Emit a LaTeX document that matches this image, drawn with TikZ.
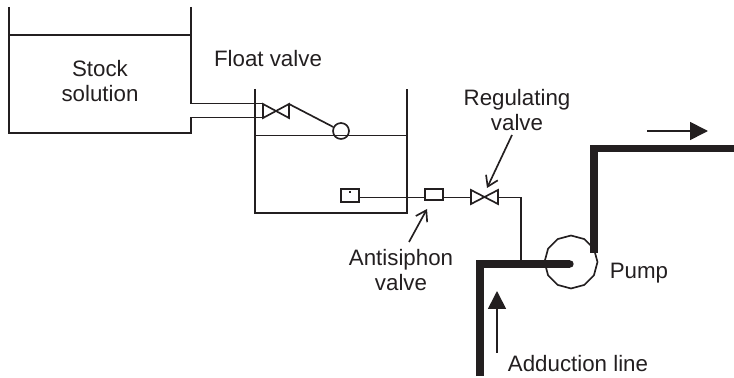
\documentclass[tikz,border=0pt]{standalone}
\usepackage{fontspec}
\setmainfont{Liberation Sans}
\usepackage{xcolor}
\usetikzlibrary{shapes.geometric,arrows.meta}
\definecolor{ink}{HTML}{231F20}
\tikzset{
  thin line/.style={draw=ink,line width=0.95pt},
  pipe/.style={draw=ink,line width=4.2pt,miter limit=10},
  lbl/.style={text=ink,inner sep=0pt,align=center,font=\fontsize{12.7}{14.7}\selectfont},
  box/.style={rectangle,thin line,inner sep=0pt,minimum width=0.36cm,minimum height=0.25cm},
  flow/.style={thin line,-{Triangle[width=0.36cm,length=0.36cm]}},
  point/.style={thin line,-{Straight Barb[width=0.26cm,length=0.2cm]}}
}

\begin{document}
\begin{tikzpicture}[x=0.02cm,y=-0.02cm]
        \useasboundingbox (0,0) rectangle (734,378);

        % stock tank
        \coordinate (st1) at (9,7);
        \coordinate (st2) at (9,133);
        \coordinate (st3) at (191,133);
        \coordinate (st4) at (191,117.5);
        \coordinate (st5) at (191,103.5);
        \coordinate (st6) at (191,7);
        \coordinate (lev1) at (9,35);
        \coordinate (lev2) at (191,35);
        \draw [thin line] (st1) -- (st2) -- (st3) -- (st4) -- (263,117.5);
        \draw [thin line] (st6) -- (st5) -- (263,103.5);
        \draw [thin line] (lev1) -- (lev2);
        \node[lbl] (stock) at (100,81) {Stock\\solution};

        % dosing tank
        \coordinate (dt1) at (255,89);
        \coordinate (dt2) at (255,213);
        \coordinate (dt3) at (407,213);
        \coordinate (dt4) at (407,89);
        \coordinate (lev3) at (255,135.5);
        \coordinate (lev4) at (407,135.5);
        \draw [thin line] (dt1) -- (dt2) -- (dt3) -- (dt4);
        \draw [thin line] (lev3) -- (lev4);

        % float valve
        \coordinate (fv1) at (263,104);
        \coordinate (fv2) at (289,118);
        \coordinate (fv3) at (289,104);
        \coordinate (fv4) at (263,118);
        \draw [thin line] (fv1) -- (fv2) -- (fv3) -- (fv4) -- cycle;
        \node[circle,thin line,inner sep=0pt,minimum size=0.32cm] (float) at (341,131) {};
        \draw [thin line] (fv3) -- (float);
        \node[lbl] (fvlabel) at (268,59) {Float valve};

        % suction line
        \node[box] (strainer) at (350,195.5) {};
        \node[rectangle,fill=ink,inner sep=0pt,minimum size=0.05cm] (dot) at (350,192) {};
        \node[box,minimum height=0.23cm] (antisiphon) at (434,194.5) {};
        \coordinate (rv1) at (471,190);
        \coordinate (rv2) at (498,204);
        \coordinate (rv3) at (498,190);
        \coordinate (rv4) at (471,204);
        \coordinate (rvin) at (471,197.5);
        \coordinate (rvout) at (498,197.5);
        \coordinate (tee) at (521,197.5);
        \coordinate (teeend) at (521,264);
        \draw [thin line] (rv1) -- (rv2) -- (rv3) -- (rv4) -- cycle;
        \draw [thin line] (strainer.east |- rvin) -- (antisiphon.west |- rvin);
        \draw [thin line] (antisiphon.east |- rvin) -- (rvin);
        \draw [thin line] (rvout) -- (tee) -- (teeend);

        % main pipes and pump
        \node[regular polygon,regular polygon sides=12,shape border rotate=15,thin line,inner sep=0pt,minimum size=1.06cm] (pump) at (571,262) {};
        \coordinate (in1) at (480,376);
        \coordinate (in2) at (480,264);
        \coordinate (in3) at (570,264);
        \coordinate (out1) at (594,253);
        \coordinate (out2) at (594,148.5);
        \coordinate (out3) at (734,148.5);
        \draw [pipe] (in1) -- (in2) -- (in3);
        \draw [pipe,line cap=round] (in3) -- (in3);
        \draw [pipe] (out1) -- (out2) -- (out3);

        % labels and arrows
        \node[lbl] (rvlabel) at (517,110) {Regulating\\valve};
        \node[lbl] (aslabel) at (401,270) {Antisiphon\\valve};
        \node[lbl] (pumplabel) at (639,273) {Pump};
        \node[lbl] (adlabel) at (578,364) {Adduction line};
        \coordinate (rva) at (512,135);
        \coordinate (rvb) at (487,188);
        \coordinate (asa) at (409,242);
        \coordinate (asb) at (427,209);
        \coordinate (upa) at (497,353);
        \coordinate (upb) at (497,291);
        \coordinate (ria) at (647,131);
        \coordinate (rib) at (708,131);
        \draw [point] (rva) -- (rvb);
        \draw [point] (asa) -- (asb);
        \draw [flow] (upa) -- (upb);
        \draw [flow] (ria) -- (rib);
\end{tikzpicture}
\end{document}
